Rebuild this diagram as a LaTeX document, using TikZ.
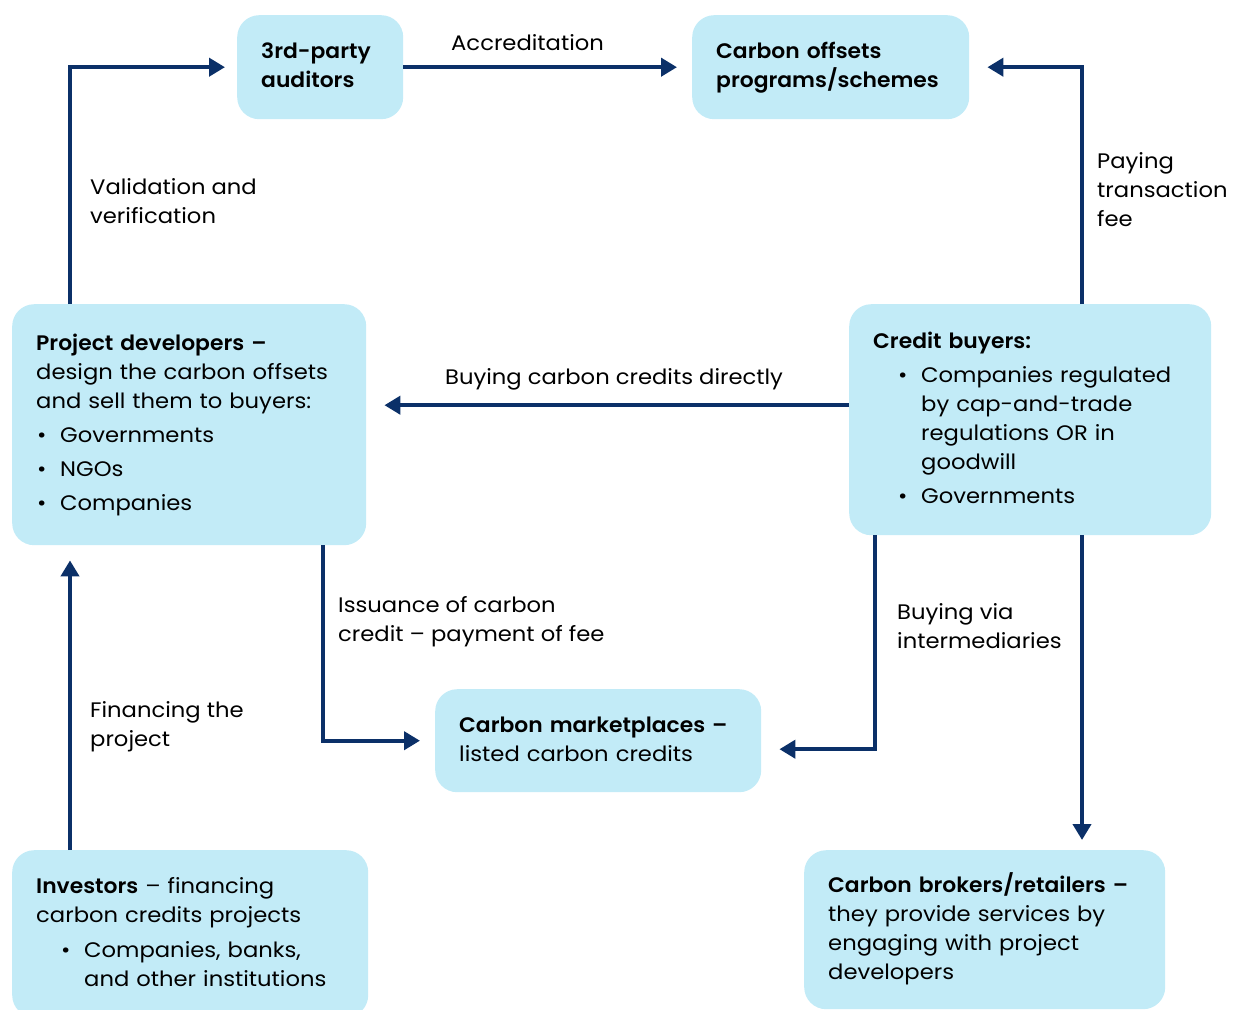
\documentclass[tikz,border=0pt]{standalone}
\usepackage{fontspec}
\setmainfont{Poppins}[FakeStretch=1.08, BoldFont={Poppins SemiBold}, BoldFeatures={FakeStretch=1.04}]
\usetikzlibrary{arrows.meta}
\definecolor{boxblue}{HTML}{C2EBF7}
\definecolor{navy}{HTML}{0B3068}
\newcommand\fsz{\fontsize{21}{29}\selectfont}
\newcommand\bul{\hspace*{1pt}\makebox[23pt][l]{•}}
\newcommand\ibul{\hspace*{25pt}\makebox[23pt][l]{•}}
\newcommand\icont{\hspace*{48pt}}
\newcommand\tb[1]{\begin{tabular}{@{}l@{}}#1\end{tabular}}
\newcommand\tl[1]{\begin{tabular}[t]{@{}l@{}}#1\end{tabular}}
\tikzset{
  box/.style={fill=boxblue, rounded corners=22pt, anchor=north west, align=left,
    inner xsep=24pt, inner ysep=0pt, font=\fsz},
  arr/.style={draw=navy, line width=4pt, -{Triangle[length=16pt,width=18pt]}},
  lbl/.style={anchor=base west, inner sep=0pt, font=\fsz},
}
\begin{document}
\begin{tikzpicture}[x=1pt,y=-1pt]
\useasboundingbox (0,0) rectangle (1241,1009);
% boxes
\node[box, minimum width=166pt, minimum height=104pt, text width=118pt] (aud) at (237,15)
  {\tb{\textbf{3rd-party}\\\textbf{auditors}}};
\node[box, minimum width=277pt, minimum height=104pt, text width=229pt] (prog) at (692,15)
  {\tb{\textbf{Carbon offsets}\\\textbf{programs/schemes}}};
\node[box, minimum width=354pt, minimum height=241pt, text width=306pt] (pd) at (12,304)
  {\raisebox{2pt}{\tb{\textbf{Project developers –}\\design the carbon offsets\\and sell them to buyers:\\[5pt]\bul Governments\\[5pt]\bul NGOs\\[5pt]\bul Companies}}};
\node[box, minimum width=362pt, minimum height=231pt, text width=314pt] (cb) at (849,304)
  {\tb{\textbf{Credit buyers:}\\[5pt]\ibul Companies regulated\\\icont by cap-and-trade\\\icont regulations OR in\\\icont goodwill\\[5pt]\ibul Governments}};
\node[box, minimum width=326pt, minimum height=103pt, text width=278pt] (mp) at (435,689)
  {\tb{\textbf{Carbon marketplaces –}\\listed carbon credits}};
\node[box, minimum width=356pt, minimum height=167pt, text width=308pt] (inv) at (12,850)
  {\tb{\textbf{Investors} – financing\\carbon credits projects\\[6pt]\ibul Companies, banks,\\\icont and other institutions}};
\node[box, minimum width=361pt, minimum height=159pt, text width=313pt] (br) at (804,850)
  {\tb{\textbf{Carbon brokers/retailers –}\\they provide services by\\engaging with project\\developers}};
% connectors
\coordinate (a0) at ([xshift=58pt]pd.north west);
\draw[arr, shorten >=12pt] (a0) |- (aud.west);
\draw[arr, shorten >=15pt] (aud.east) -- (prog.west);
\coordinate (c0) at ([xshift=233pt]cb.north west);
\draw[arr, shorten >=18pt] (c0) |- (prog.east);
\coordinate (d0) at ([yshift=14.5pt]cb.west);
\draw[arr, shorten >=18pt] (d0) -- (d0 -| pd.east);
\coordinate (e0) at ([xshift=311pt]pd.south west);
\draw[arr, shorten >=15pt] (e0) |- (mp.west);
\coordinate (f0) at ([xshift=26pt]cb.south west);
\coordinate (f1) at ([yshift=-8.5pt]mp.east);
\draw[arr, shorten >=18pt] (f0) |- (f1);
\coordinate (g0) at ([xshift=233pt]cb.south west);
\draw[arr, shorten >=10pt] (g0) -- (g0 |- br.north);
\coordinate (h0) at ([xshift=58pt]inv.north west);
\draw[arr, shorten >=15pt] (h0) -- (h0 |- pd.south);
% labels
\node[lbl] (lacc) at (451,50) {Accreditation};
\node[lbl] (lval) at (90,194) {\tl{Validation and\\verification}};
\node[lbl] (lpay) at (1097,168) {\tl{Paying\\transaction\\fee}};
\node[lbl] (lbuy) at (445,384) {Buying carbon credits directly};
\node[lbl] (liss) at (338,612) {\tl{Issuance of carbon\\credit – payment of fee}};
\node[lbl] (lvia) at (897,619) {\tl{Buying via\\intermediaries}};
\node[lbl] (lfin) at (90,717) {\tl{Financing the\\project}};
\end{tikzpicture}
\end{document}
